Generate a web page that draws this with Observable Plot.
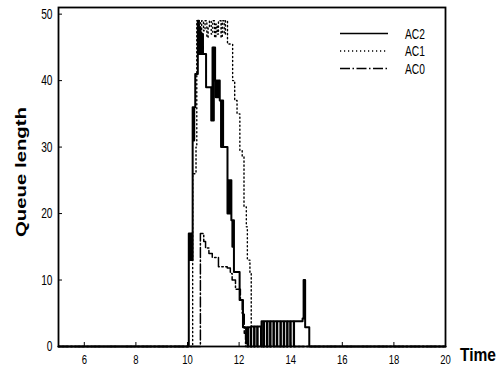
<!DOCTYPE html>
<html>
<head>
<meta charset="utf-8">
<script src="https://cdn.jsdelivr.net/npm/d3@7"></script>
<script src="https://cdn.jsdelivr.net/npm/@observablehq/plot@0.6"></script>
<style>
  html, body { margin: 0; padding: 0; background: #fff; overflow: hidden; }
  svg { display: block; }
</style>
</head>
<body>
<script>
// ---- data ----
const seriesNames = ["AC2", "AC1", "AC0"];
const xTicks = [6, 8, 10, 12, 14, 16, 18, 20];
const yTicks = [0, 10, 20, 30, 40, 50];
const xLabel = "Time";
const yLabel = "Queue length";

const ac2Time = [5, 10.05, 10.10, 10.13, 10.16, 10.20, 10.23, 10.26, 10.30, 10.40, 10.44, 10.47, 10.50, 10.55, 10.60, 10.72,
  10.92, 10.95, 10.97, 11.00, 11.02, 11.07, 11.10, 11.13, 11.16, 11.20, 11.25, 11.30, 11.33, 11.38, 11.55, 11.58, 11.62,
  11.66, 11.70, 11.74, 11.77, 11.80, 12.02, 12.15, 12.27, 12.31,
  12.33, 12.35, 12.45, 12.47, 12.58, 12.60, 12.70, 12.72, 12.85, 12.87, 12.95, 12.97, 13.08, 13.10, 13.20, 13.22,
  13.33, 13.35, 13.46, 13.48, 13.60, 13.62, 13.73, 13.75, 13.86, 13.88, 13.98, 14.00, 14.12, 14.13,
  14.46, 14.50, 14.56, 14.72, 20];
const ac2Value = [0, 17, 13, 17, 13, 36, 31, 36, 41, 49, 44, 48, 44, 47, 44, 39,
  34, 39, 45, 34, 45, 40, 37.5, 40, 37.5, 40, 37, 30, 37, 30, 20, 25, 20,
  25, 19, 15, 19, 11.2, 7, 2.9, 0.5, 2.9,
  0, 2.9, 0, 3, 0, 3, 0, 3, 0, 3.8, 0, 3.8, 0, 3.8, 0, 3.8,
  0, 3.8, 0, 3.8, 0, 3.8, 0, 3.8, 0, 3.8, 0, 3.8, 0, 3.8,
  4.2, 10, 2.9, 0, 0];

const ac1Time = [5, 10.20, 10.33, 10.36, 10.40, 10.45, 10.50, 10.55, 10.62, 10.68, 10.75, 10.80, 10.85, 10.92, 10.98,
  11.05, 11.10, 11.15, 11.20, 11.30, 11.35, 11.42, 11.47, 11.55, 11.75, 11.83, 11.92, 12.03, 12.12, 12.19, 12.28,
  12.32, 12.42, 12.47, 20];
const ac1Value = [0, 26, 30, 49, 47, 49, 46.5, 49, 47.5, 49, 46.5, 48, 49, 47, 49,
  46.5, 48.5, 47, 49, 46.5, 49, 47, 49, 45.5, 40, 37, 35, 29.5, 28.5, 21, 18,
  13, 11, 0, 0];

const ac0Time = [5, 10.50, 10.63, 10.70, 10.83, 10.96, 11.20, 11.54, 11.66, 11.73, 11.86, 12.05, 12.12, 12.20, 12.25, 20];
const ac0Value = [0, 17, 15.8, 14.8, 14, 13.4, 12, 11.8, 11, 10, 8.6, 7, 5, 2, 0, 0];

// ---- build tables ----
const rows = (name, ts, vs) => ts.map((t, i) => ({series: name, t, v: vs[i]}));
const ac2 = rows("AC2", ac2Time, ac2Value);
const ac1 = rows("AC1", ac1Time, ac1Value);
const ac0 = rows("AC0", ac0Time, ac0Value);

const W = 500, H = 367;
const mL = 58, mR = 55, mT = 7, mB = 21;
const innerW = W - mL - mR, innerH = H - mT - mB;
const font = "'Liberation Sans', Arial, sans-serif";
const squash = 0.73;

const chart = Plot.plot({
  width: W, height: H,
  marginLeft: mL, marginRight: mR, marginTop: mT, marginBottom: mB,
  style: {fontFamily: font, fontSize: "14px", background: "#fff", color: "#000"},
  x: {domain: [5, 20], ticks: xTicks, tickSize: 0, tickPadding: 8, label: null, tickFormat: d => String(d)},
  y: {domain: [0, 51], ticks: yTicks, tickSize: 0, tickPadding: 6, label: null, tickFormat: d => String(d)},
  marks: [
    Plot.ruleX(xTicks, {stroke: "#000", strokeWidth: 1, insetTop: innerH - 4}),
    Plot.ruleY(yTicks, {stroke: "#000", strokeWidth: 1, insetRight: innerW - 4}),
    Plot.line(ac1, {x: "t", y: "v", curve: "step-after", stroke: "#000", strokeWidth: 1.4, strokeDasharray: "1.2,2.8"}),
    Plot.line(ac0, {x: "t", y: "v", curve: "step-after", stroke: "#000", strokeWidth: 1.5, strokeDasharray: "10,2.5,1.5,2.5"}),
    Plot.line(ac2, {x: "t", y: "v", curve: "step-after", stroke: "#000", strokeWidth: 2}),
    Plot.frame({stroke: "#000", strokeWidth: 1.8})
  ]
});

document.body.append(chart);
const svg = d3.select(chart);

// x tick labels a bit smaller so they stay inside the picture
svg.selectAll("g[aria-label='x-axis tick label'] text").attr("font-size", 13);

// narrow-looking tick labels like the reference
chart.querySelectorAll("text").forEach(t => {
  const w = t.getComputedTextLength();
  if (w > 0) {
    t.setAttribute("textLength", (w * squash).toFixed(2));
    t.setAttribute("lengthAdjust", "spacingAndGlyphs");
  }
});

// legend (inside the frame, top right)
const legendStyles = [
  {dash: null, width: 1.6},
  {dash: "1.2,2.8", width: 1.4},
  {dash: "10,2.5,1.5,2.5", width: 1.6}
];
const lg = svg.append("g").attr("text-anchor", "start");
seriesNames.forEach((name, i) => {
  const y = 33.5 + i * 17.5;
  const st = legendStyles[i];
  const ln = lg.append("line").attr("x1", 340).attr("x2", 388).attr("y1", y).attr("y2", y)
    .attr("stroke", "#000").attr("stroke-width", st.width);
  if (st.dash) ln.attr("stroke-dasharray", st.dash);
  const tx = lg.append("text").attr("x", 405).attr("y", y + 5).attr("text-anchor", "start")
    .attr("font-family", font).attr("font-size", 14).attr("fill", "#000").text(name);
  const w = tx.node().getComputedTextLength();
  tx.attr("textLength", (w * squash).toFixed(2)).attr("lengthAdjust", "spacingAndGlyphs");
});

// axis titles (narrowed with a transform so the drawn box is the real one)
const xt = svg.append("text").attr("transform", "translate(460,361) scale(1,1)").attr("text-anchor", "start")
  .attr("font-family", font).attr("font-size", 18).attr("font-weight", "bold").attr("fill", "#000").text(xLabel);
const xw = xt.node().getComputedTextLength();
xt.attr("transform", `translate(460,361) scale(${(36 / xw).toFixed(3)},1)`);

const yt = svg.append("text")
  .attr("transform", "translate(26,172) rotate(-90) scale(1,0.78)")
  .attr("text-anchor", "middle")
  .attr("font-family", font).attr("font-size", 19).attr("font-weight", "bold").attr("fill", "#000").text(yLabel);
yt.attr("textLength", 130).attr("lengthAdjust", "spacingAndGlyphs");
</script>
</body>
</html>
